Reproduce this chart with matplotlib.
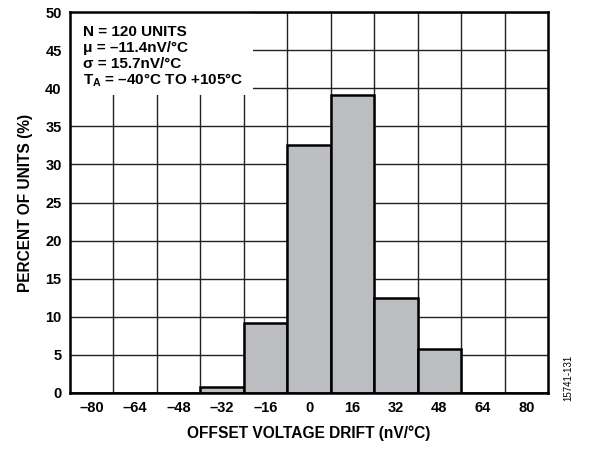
import numpy as np
import matplotlib
matplotlib.use("Agg")
import matplotlib.pyplot as plt
from matplotlib.patches import Rectangle

plt.rcParams['font.family'] = ['Liberation Sans', 'DejaVu Sans']
plt.rcParams['font.weight'] = 'bold'
plt.rcParams['mathtext.fontset'] = 'custom'
plt.rcParams['mathtext.rm'] = 'Liberation Sans:bold'
plt.rcParams['mathtext.it'] = 'Liberation Sans:bold'
plt.rcParams['mathtext.bf'] = 'Liberation Sans:bold'

# bin centres (nV/°C) and percent of units in each bin
bin_centers = [-80, -64, -48, -32, -16, 0, 16, 32, 48, 64, 80]
percent = [0, 0, 0, 0.83, 9.17, 32.5, 39.17, 12.5, 5.83, 0, 0]
tick_labels = ["–80", "–64", "–48", "–32", "–16", "0", "16", "32", "48", "64", "80"]
y_ticks = [0, 5, 10, 15, 20, 25, 30, 35, 40, 45, 50]
bin_width = 16

stats_lines = ["N = 120 UNITS",
               "μ = –11.4nV/°C",
               "σ = 15.7nV/°C",
               r"$\mathrm{T_A}$ = –40°C TO +105°C"]

fig = plt.figure(figsize=(5.91, 4.49), dpi=100, facecolor='w')
ax = fig.add_axes([70/591, 1-393/449, 478/591, 381/449])

ax.bar(bin_centers, percent, width=bin_width, color='#bcbdc1',
       edgecolor='black', linewidth=1.8, zorder=3)

edges = [c - bin_width/2 for c in bin_centers] + [bin_centers[-1] + bin_width/2]
ax.set_xlim(edges[0], edges[-1])
ax.set_ylim(0, 50)
ax.set_xticks(bin_centers)
ax.set_xticklabels(tick_labels)
ax.set_xticks(edges[1:-1], minor=True)
ax.set_yticks(y_ticks)
ax.tick_params(axis='both', which='both', length=0, labelsize=10.5)
ax.tick_params(axis='x', pad=6)
ax.tick_params(axis='y', pad=6)
ax.grid(True, axis='x', which='minor', color='#222222', lw=1.0, zorder=1)
ax.grid(True, axis='y', which='major', color='#222222', lw=1.0, zorder=1)
ax.set_axisbelow(True)
for s in ax.spines.values():
    s.set_linewidth(1.8)
    s.set_zorder(5)

# white panel behind the stats text
ax.add_patch(Rectangle((0, 1 - 83/381), 183/478, 83/381, transform=ax.transAxes,
                       facecolor='white', edgecolor='none', zorder=2))
for i, line in enumerate(stats_lines):
    ax.text(13/478, 1 - (20 + 16.2*i)/381, line, transform=ax.transAxes,
            fontsize=11, fontweight='bold', va='center', ha='left', zorder=4)

ax.set_xlabel("OFFSET VOLTAGE DRIFT (nV/°C)", fontsize=11.2, fontweight='bold', labelpad=7)
ax.set_ylabel("PERCENT OF UNITS (%)", fontsize=11.2, fontweight='bold', labelpad=9)

fig.text(568/591, 1 - 378/449, "15741-131", rotation=90, fontsize=7,
         fontweight='normal', ha='center', va='center')

plt.savefig("out.png", dpi=100)
